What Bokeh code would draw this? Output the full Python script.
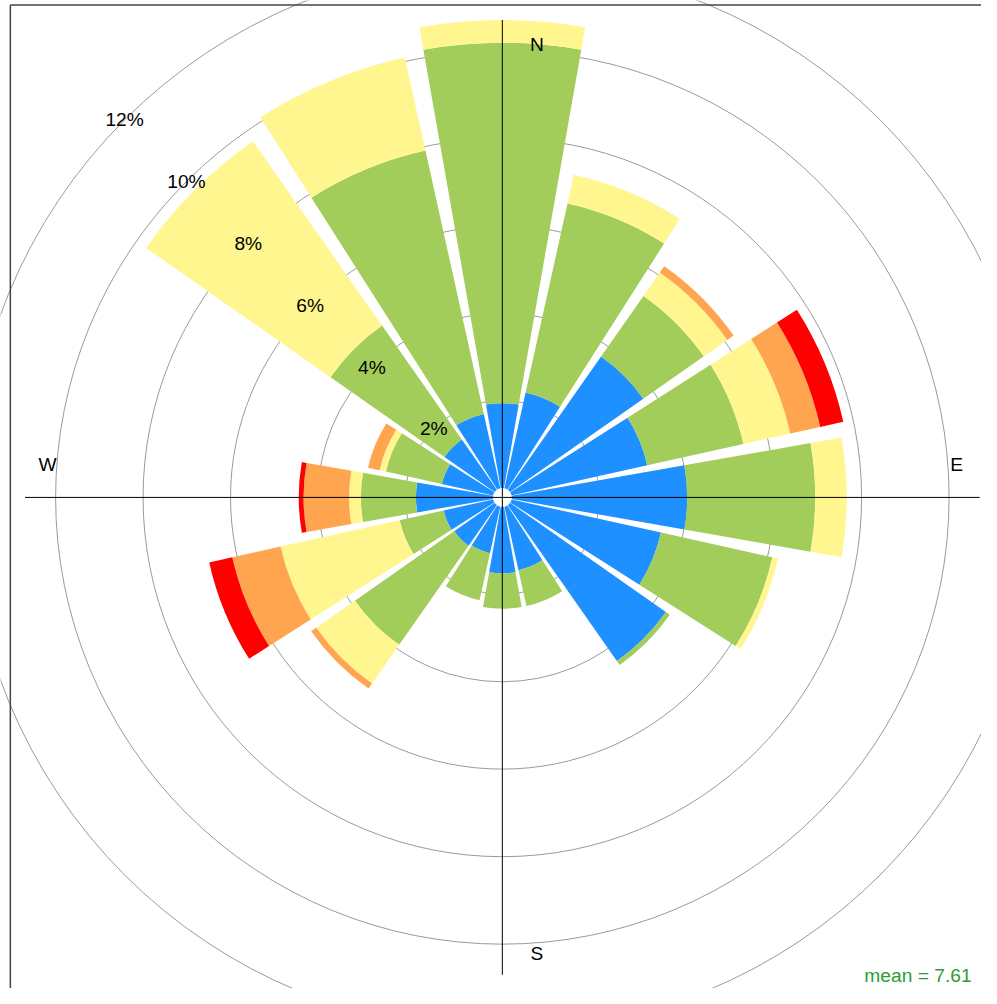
import math
from bokeh.plotting import figure
from bokeh.models import Range1d, ColumnDataSource, Label
from bokeh.embed import file_html
from bokeh.resources import INLINE
from bokeh.core.properties import value

# ---------------- data (percent frequency per direction and speed band) -------------
directions = ["N", "NNE", "NE", "ENE", "E", "ESE", "SE", "SSE",
              "S", "SSW", "SW", "WSW", "W", "WNW", "NW", "NNW"]
bearings = [0, 22.5, 45, 67.5, 90, 112.5, 135, 157.5,
            180, 202.5, 225, 247.5, 270, 292.5, 315, 337.5]
band1 = [1.94, 2.24, 3.72, 3.18, 4.01, 3.50, 4.35, 1.49,
         1.52, 1.09, 1.13, 1.16, 1.76, 1.20, 1.40, 1.74]
band2 = [8.24, 4.43, 1.69, 2.25, 2.93, 2.61, 0.11, 0.84,
         0.81, 1.10, 2.77, 1.03, 1.26, 1.31, 3.18, 6.17]
band3 = [0.52, 0.67, 0.65, 1.10, 0.72, 0.13, 0.00, 0.00,
         0.00, 0.00, 1.08, 2.79, 0.27, 0.15, 5.15, 2.18]
band4 = [0.00, 0.00, 0.18, 0.70, 0.00, 0.00, 0.00, 0.00,
         0.00, 0.00, 0.14, 1.13, 1.04, 0.27, 0.00, 0.00]
band5 = [0.00, 0.00, 0.00, 0.54, 0.00, 0.00, 0.00, 0.00,
         0.00, 0.00, 0.00, 0.54, 0.11, 0.00, 0.00, 0.00]
bands = [band1, band2, band3, band4, band5]
band_colors = ["#1E90FF", "#A2CD5A", "#FFF68F", "#FFA54F", "#FF0000"]
ring_values = [2, 4, 6, 8, 10, 12]
ring_labels = ["2%", "4%", "6%", "8%", "10%", "12%"]
mean_speed = 7.61

# ---------------- layout -------------
S = 0.984           # page scale so the whole fits the window
PX = 44.44 * S      # pixels per percent
W, H = 981, 988
CX, CY = 510 * S, 505 * S   # centre in figure pixels
off = 0.216         # inner offset (percent units)
half_width = 10.0   # half angular width of each bar (deg)
FS = "%.1fpx" % (19.5 * S)

p = figure(width=W, height=H,
           x_range=Range1d(-CX / PX, (W - CX) / PX),
           y_range=Range1d(-(H - CY) / PX, CY / PX),
           output_backend="svg", toolbar_location=None,
           x_axis_location=None, y_axis_location=None, min_border=0)
p.grid.visible = False
p.outline_line_color = None
p.background_fill_color = "white"
p.border_fill_color = "white"

# rings
ring_src = ColumnDataSource(dict(x=[0] * len(ring_values), y=[0] * len(ring_values),
                                 r=[off + v for v in ring_values]))
p.circle(x="x", y="y", radius="r", source=ring_src, fill_color=None,
         line_color="#9a9a9a", line_width=1)

# wedges
wx, wy, rin, rout, sa, ea, col = [], [], [], [], [], [], []
for i, b in enumerate(bearings):
    cum = 0.0
    for k, band in enumerate(bands):
        v = band[i]
        if v <= 0:
            continue
        theta = 90 - b
        wx.append(0); wy.append(0)
        rin.append(off + cum); rout.append(off + cum + v)
        sa.append(math.radians(theta - half_width))
        ea.append(math.radians(theta + half_width))
        col.append(band_colors[k])
        cum += v
wsrc = ColumnDataSource(dict(x=wx, y=wy, rin=rin, rout=rout, sa=sa, ea=ea, c=col))
p.annular_wedge(x="x", y="y", inner_radius="rin", outer_radius="rout",
                start_angle="sa", end_angle="ea", source=wsrc,
                fill_color="c", line_color=None)

# axis lines
totals = [sum(b[i] for b in bands) for i in range(len(bearings))]
L = off + max(totals)
p.segment(x0=[-L, 0], y0=[0, -L], x1=[L, 0], y1=[0, L], line_color="black", line_width=1)

# frame (left and top edges)
xs, xe = p.x_range.start, p.x_range.end
ys, ye = p.y_range.start, p.y_range.end
fx = xs + 10 * S / PX
fy = ye - 4.7 * S / PX
p.segment(x0=[fx, fx], y0=[ys, fy], x1=[fx, xe], y1=[fy, fy],
          line_color="#444444", line_width=1.5)

# percentage labels along NW direction
ang = math.radians(135)
lab_src = ColumnDataSource(dict(x=[(off + v) * math.cos(ang) for v in ring_values],
                                y=[(off + v) * math.sin(ang) for v in ring_values],
                                t=ring_labels))
p.text(x="x", y="y", text="t", source=lab_src, text_align="center",
       text_baseline="middle", text_font=value("Liberation Sans"),
       text_font_size=FS, text_color="black")

# compass labels
for t, x, y in [("N", 0.79, 10.35), ("E", 10.39, 0.75), ("W", -10.40, 0.75), ("S", 0.79, -10.42)]:
    p.add_layout(Label(x=x, y=y, text=t, text_align="center", text_baseline="middle",
                       text_font="Liberation Sans", text_font_size=FS, text_color="black"))

p.add_layout(Label(x=10.73, y=-10.94, text="mean = %.2f" % mean_speed,
                   text_align="right", text_baseline="alphabetic",
                   text_font="Liberation Sans", text_font_size=FS, text_color="#2E9B3A"))

open("out.html", "w").write(file_html(p, INLINE))
